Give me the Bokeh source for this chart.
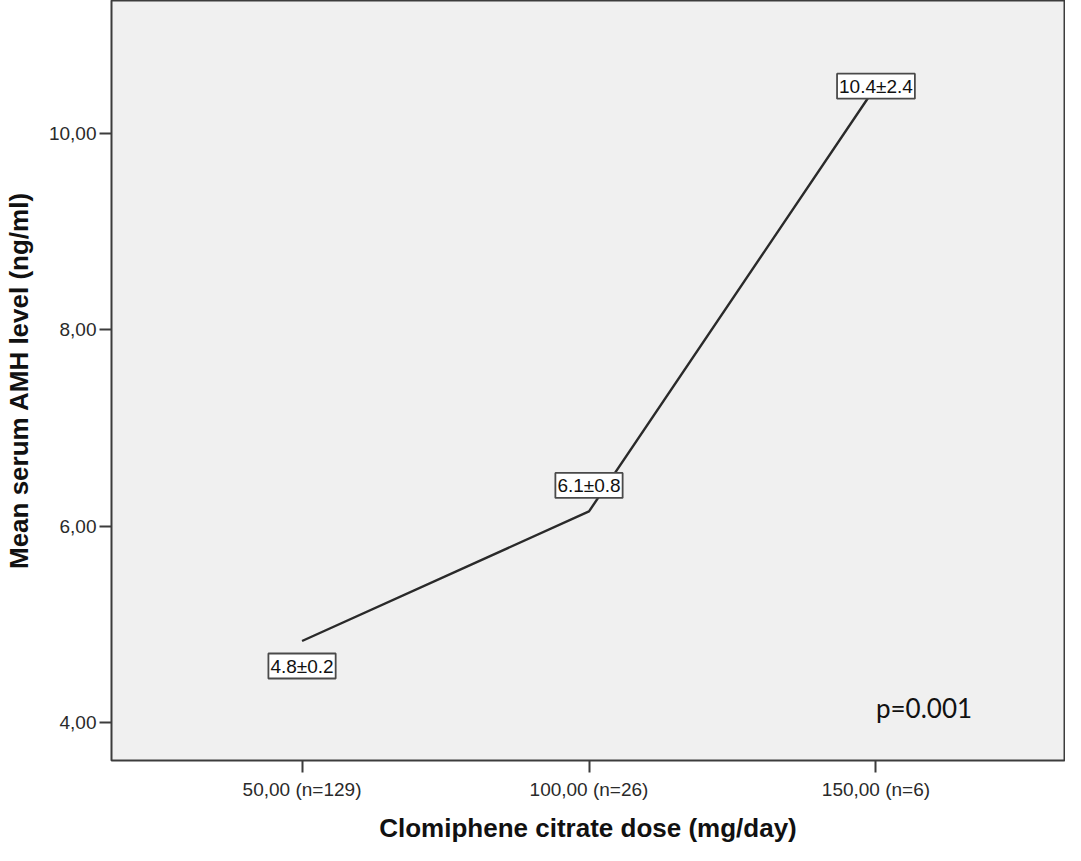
import numpy as np
from bokeh.plotting import figure
from bokeh.models import Range1d, FixedTicker, Label
from bokeh.embed import file_html
from bokeh.resources import INLINE

# ---- data ----
doses = [50, 100, 150]
group_n = [129, 26, 6]
mean_amh = [4.83, 6.15, 10.48]
value_labels = ["4.8\u00b10.2", "6.1\u00b10.8", "10.4\u00b12.4"]
x_tick_labels = ["50,00 (n=129)", "100,00 (n=26)", "150,00 (n=6)"]
y_tick_values = [4, 6, 8, 10]
y_tick_labels = ["4,00", "6,00", "8,00", "10,00"]
p_value_text = "p=0.001"

xpos = list(range(1, len(doses) + 1))

p = figure(width=1065, height=845, output_backend="svg", toolbar_location=None,
           x_range=Range1d(0.336, 3.657), y_range=Range1d(3.613, 11.353),
           min_border_left=107, min_border_right=1, min_border_top=0, min_border_bottom=81)

p.background_fill_color = "#f0f0f0"
p.border_fill_color = "white"
p.outline_line_color = "#3c3c3c"
p.outline_line_width = 2
p.xgrid.visible = False
p.ygrid.visible = False

for ax in (p.xaxis[0], p.yaxis[0]):
    ax.axis_line_color = None
    ax.major_tick_line_color = "#3c3c3c"
    ax.major_tick_line_width = 2
    ax.major_tick_out = 12
    ax.major_tick_in = 0
    ax.minor_tick_line_color = None
    ax.major_label_text_font = "Liberation Sans"
    ax.major_label_text_font_size = "19px"
    ax.major_label_text_color = "#2a2a2a"
    ax.major_label_standoff = 3
    ax.axis_label_text_font = "Liberation Sans"
    ax.axis_label_text_font_style = "bold"
    ax.axis_label_text_font_size = "26px"
    ax.axis_label_text_color = "#111111"

p.xaxis.ticker = FixedTicker(ticks=xpos)
p.xaxis.major_label_overrides = {x: lab for x, lab in zip(xpos, x_tick_labels)}
p.xaxis.axis_label = "Clomiphene citrate dose (mg/day)"
p.xaxis.major_label_standoff = 6
p.xaxis.axis_label_standoff = 10

p.yaxis.ticker = FixedTicker(ticks=y_tick_values)
p.yaxis.major_label_overrides = {v: lab for v, lab in zip(y_tick_values, y_tick_labels)}
p.yaxis.axis_label = "Mean serum AMH level (ng/ml)"
p.yaxis.axis_label_standoff = 12

p.line(xpos, mean_amh, line_color="#2a2a2a", line_width=2.4)

offsets = [-25, 26, 0]
for x, y, t, off in zip(xpos, mean_amh, value_labels, offsets):
    p.add_layout(Label(x=x, y=y, text=t, y_offset=off,
                       text_align="center", text_baseline="middle",
                       text_font="Liberation Sans", text_font_size="19px",
                       text_color="#111111",
                       background_fill_color="white",
                       border_line_color="#4a4a4a", border_line_width=1.8,
                       padding=2))

p.add_layout(Label(x=3.0, y=4.15, text=p_value_text, text_align="left",
                   text_baseline="middle", text_font="Lato",
                   text_font_size="26px", text_color="#111111"))

open("out.html", "w").write(file_html(p, INLINE))
